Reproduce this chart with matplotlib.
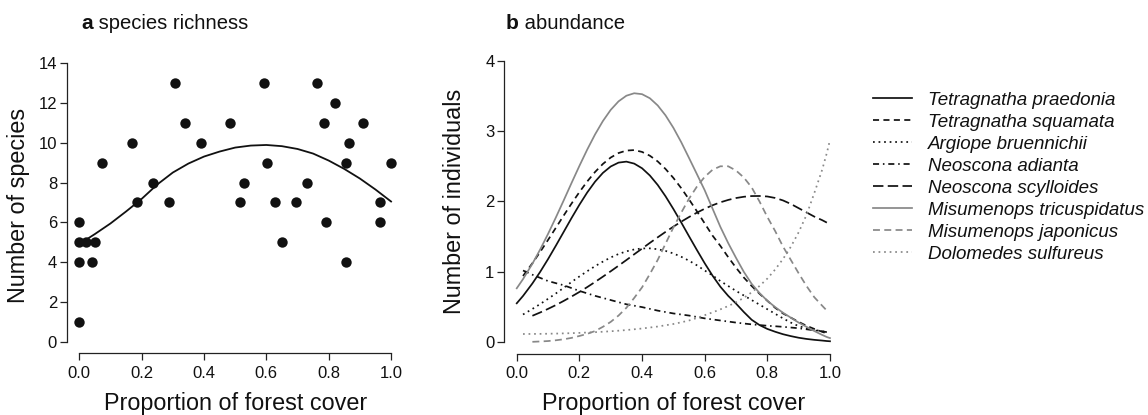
import numpy as np
import matplotlib
matplotlib.use("Agg")
import matplotlib.pyplot as plt
from matplotlib.font_manager import FontProperties

plt.rcParams['font.family'] = ['Liberation Sans', 'DejaVu Sans']

nan = float('nan')

# ---------------- panel a: species richness ----------------
forest_a = [0.00, 0.00, 0.00, 0.00, 0.021, 0.041, 0.05, 0.072, 0.169, 0.186,
            0.236, 0.288, 0.307, 0.34, 0.391, 0.482, 0.515, 0.527, 0.594, 0.602,
            0.629, 0.649, 0.696, 0.731, 0.763, 0.784, 0.791, 0.821, 0.855, 0.857,
            0.864, 0.909, 0.964, 0.966, 1.00]
richness = [1, 4, 5, 6, 5, 4, 5, 9, 10, 7,
            8, 7, 13, 11, 10, 11, 7, 8, 13, 9,
            7, 5, 7, 8, 13, 11, 6, 12, 9, 4,
            10, 11, 6, 7, 9]

fit_x_a = [0.02, 0.05, 0.10, 0.15, 0.20, 0.25, 0.30, 0.35, 0.40, 0.45, 0.50,
           0.55, 0.60, 0.65, 0.70, 0.75, 0.80, 0.85, 0.90, 0.95, 1.00]
fit_y_a = [5.12, 5.42, 5.95, 6.55, 7.18, 7.90, 8.50, 8.95, 9.30, 9.55, 9.75,
           9.85, 9.88, 9.82, 9.68, 9.45, 9.10, 8.68, 8.20, 7.65, 7.05]

# ---------------- panel b: abundance curves ----------------
x_b = [0.00, 0.02, 0.05, 0.075, 0.10, 0.125, 0.15, 0.175, 0.20, 0.225, 0.25, 0.275,
       0.30, 0.325, 0.35, 0.375, 0.40, 0.425, 0.45, 0.475, 0.50, 0.525, 0.55, 0.575,
       0.60, 0.625, 0.65, 0.675, 0.70, 0.725, 0.75, 0.775, 0.80, 0.825, 0.85, 0.875,
       0.90, 0.925, 0.95, 0.975, 0.99, 1.00]

species = ["Tetragnatha praedonia", "Tetragnatha squamata", "Argiope bruennichii",
           "Neoscona adianta", "Neoscona scylloides", "Misumenops tricuspidatus",
           "Misumenops japonicus", "Dolomedes sulfureus"]

praedonia = [0.554, 0.658, 0.836, 1.002, 1.182, 1.373, 1.569, 1.765, 1.953, 2.128, 2.281, 2.406,
             2.497, 2.552, 2.566, 2.538, 2.472, 2.369, 2.235, 2.074, 1.894, 1.703, 1.506, 1.312,
             1.123, 0.947, 0.79, 0.66, 0.55, 0.43, 0.32, 0.245, 0.19, 0.15, 0.115, 0.088,
             0.065, 0.048, 0.035, 0.025, 0.018, 0.015]
squamata = [nan, 0.942, 1.123, 1.285, 1.454, 1.627, 1.801, 1.971, 2.133, 2.284, 2.419, 2.533,
            2.624, 2.688, 2.723, 2.73, 2.704, 2.65, 2.569, 2.462, 2.335, 2.19, 2.03, 1.862,
            1.689, 1.516, 1.37, 1.21, 1.06, 0.92, 0.80, 0.69, 0.59, 0.49, 0.41, 0.35,
            0.29, 0.235, 0.19, 0.15, 0.125, nan]
bruennichii = [nan, 0.395, 0.474, 0.544, 0.618, 0.694, 0.774, 0.857, 0.935, 1.01, 1.081, 1.146,
               1.205, 1.254, 1.292, 1.319, 1.333, 1.334, 1.322, 1.298, 1.262, 1.215, 1.159, 1.094,
               1.02, 0.95, 0.87, 0.80, 0.73, 0.665, 0.60, 0.535, 0.47, 0.405, 0.34, 0.28,
               0.23, 0.20, 0.175, 0.158, 0.145, nan]
adianta = [nan, 1.02, 0.96, 0.915, 0.87, 0.84, 0.81, 0.77, 0.73, 0.695, 0.66, 0.63,
           0.60, 0.57, 0.54, 0.52, 0.50, 0.475, 0.45, 0.43, 0.41, 0.395, 0.38, 0.36,
           0.34, 0.325, 0.31, 0.295, 0.28, 0.267, 0.255, 0.245, 0.235, 0.228, 0.22, 0.21,
           0.20, 0.185, 0.17, 0.155, 0.145, nan]
scylloides = [nan, nan, 0.377, 0.424, 0.475, 0.529, 0.588, 0.65, 0.715, 0.784, 0.857, 0.932,
              1.009, 1.088, 1.168, 1.25, 1.331, 1.412, 1.491, 1.568, 1.642, 1.713, 1.779, 1.841,
              1.897, 1.946, 1.988, 2.022, 2.049, 2.067, 2.077, 2.078, 2.071, 2.05, 2.015, 1.965,
              1.905, 1.845, 1.785, 1.735, 1.70, nan]
tricuspidatus = [0.767, 0.897, 1.116, 1.32, 1.54, 1.774, 2.016, 2.263, 2.505, 2.737, 2.952, 3.142,
                 3.301, 3.422, 3.502, 3.537, 3.524, 3.466, 3.364, 3.223, 3.047, 2.843, 2.618, 2.39,
                 2.16, 1.90, 1.64, 1.41, 1.20, 1.0, 0.83, 0.70, 0.59, 0.50, 0.42, 0.35,
                 0.28, 0.22, 0.16, 0.105, 0.075, 0.06]
japonicus = [nan, nan, 0.007, 0.012, 0.018, 0.029, 0.043, 0.063, 0.09, 0.12, 0.16, 0.22,
             0.29, 0.38, 0.49, 0.63, 0.78, 0.97, 1.17, 1.40, 1.63, 1.84, 2.04, 2.21,
             2.35, 2.45, 2.50, 2.50, 2.44, 2.34, 2.20, 2.0, 1.78, 1.58, 1.36, 1.17,
             0.98, 0.80, 0.64, 0.52, 0.45, nan]
sulfureus = [nan, 0.118, 0.119, 0.120, 0.122, 0.124, 0.127, 0.130, 0.134, 0.139, 0.144, 0.150,
             0.157, 0.165, 0.174, 0.185, 0.196, 0.21, 0.224, 0.242, 0.26, 0.284, 0.31, 0.345,
             0.385, 0.425, 0.468, 0.515, 0.568, 0.632, 0.71, 0.80, 0.905, 1.034, 1.183, 1.357,
             1.563, 1.808, 2.12, 2.45, 2.69, 2.874]

series_b = [praedonia, squamata, bruennichii, adianta, scylloides,
            tricuspidatus, japonicus, sulfureus]

BLACK = '#111111'
GRAY = '#888888'
styles = [
    dict(color=BLACK, linestyle='-'),
    dict(color=BLACK, linestyle=(0, (3.5, 2.5))),
    dict(color=BLACK, linestyle=(0, (1, 2.2))),
    dict(color=BLACK, linestyle=(0, (3.5, 2.2, 0.9, 2.2))),
    dict(color=BLACK, linestyle=(0, (6, 2.5))),
    dict(color=GRAY, linestyle='-'),
    dict(color=GRAY, linestyle=(0, (4, 2.5))),
    dict(color=GRAY, linestyle=(0, (1, 2.2))),
]

AX_COL = '#222222'
TXT = '#111111'


def style_axes(ax, xticks, yticks):
    for s in ['top', 'right']:
        ax.spines[s].set_visible(False)
    ax.spines['left'].set_bounds(yticks[0], yticks[-1])
    ax.spines['bottom'].set_bounds(xticks[0], xticks[-1])
    for s in ['left', 'bottom']:
        ax.spines[s].set_color(AX_COL)
        ax.spines[s].set_linewidth(0.9)
    ax.set_xticks(xticks)
    ax.set_xticklabels(['%.1f' % v for v in xticks])
    ax.set_yticks(yticks)
    ax.tick_params(axis='both', direction='out', length=5, width=0.9,
                   color=AX_COL, labelsize=12, labelcolor=TXT)
    ax.tick_params(axis='y', pad=2)
    ax.tick_params(axis='x', pad=4)


fig = plt.figure(figsize=(11.48, 4.15), dpi=100)

# panel a
axa = fig.add_axes([0.0582, 0.1482, 0.2933, 0.7277])
axa.scatter(forest_a, richness, s=56, color=BLACK, zorder=3, linewidths=0)
axa.plot(fit_x_a, fit_y_a, color=BLACK, lw=1.3)
axa.set_xlim(-0.04, 1.04)
axa.set_ylim(-0.56, 14.56)
style_axes(axa, [0.0, 0.2, 0.4, 0.6, 0.8, 1.0], [0, 2, 4, 6, 8, 10, 12, 14])
axa.set_xlabel('Proportion of forest cover', fontsize=16.8, color=TXT)
axa.set_ylabel('Number of species', fontsize=16.8, color=TXT)
axa.xaxis.set_label_coords(0.5, -0.126)
axa.yaxis.set_label_coords(-0.11, 0.49)

# panel b
axb = fig.add_axes([0.4392, 0.148, 0.2947, 0.733])
handles = []
for name, vals, st in zip(species, series_b, styles):
    h, = axb.plot(x_b, vals, lw=1.25, label=name, **st)
    handles.append(h)
axb.set_xlim(-0.04, 1.04)
axb.set_ylim(-0.16, 4.16)
style_axes(axb, [0.0, 0.2, 0.4, 0.6, 0.8, 1.0], [0, 1, 2, 3, 4])
axb.set_xlabel('Proportion of forest cover', fontsize=16.8, color=TXT)
axb.set_ylabel('Number of individuals', fontsize=16.8, color=TXT)
axb.xaxis.set_label_coords(0.5, -0.126)
axb.yaxis.set_label_coords(-0.113, 0.5)

leg = axb.legend(handles=handles, loc='upper left', bbox_to_anchor=(0.7605, 0.779),
                 bbox_transform=fig.transFigure, frameon=False,
                 prop=FontProperties(family='Liberation Sans', style='italic', size=13.5),
                 handlelength=2.1, handletextpad=0.85, labelspacing=0.26,
                 borderaxespad=0, borderpad=0)
for t in leg.get_texts():
    t.set_color(TXT)

# panel titles: bold letter followed by plain words
ta = fig.text(81 / 1148, 1 - 29 / 415, 'a', fontsize=15, fontweight='bold',
              va='baseline', ha='left', color=TXT)
tb = fig.text(506 / 1148, 1 - 29 / 415, 'b', fontsize=15, fontweight='bold',
              va='baseline', ha='left', color=TXT)
axa.annotate(' species richness', xy=(1, 0), xycoords=ta, va='bottom', ha='left',
             fontsize=14.6, color=TXT, annotation_clip=False)
axb.annotate(' abundance', xy=(1, 0), xycoords=tb, va='bottom', ha='left',
             fontsize=14.6, color=TXT, annotation_clip=False)

fig.savefig('out.png', dpi=100)
